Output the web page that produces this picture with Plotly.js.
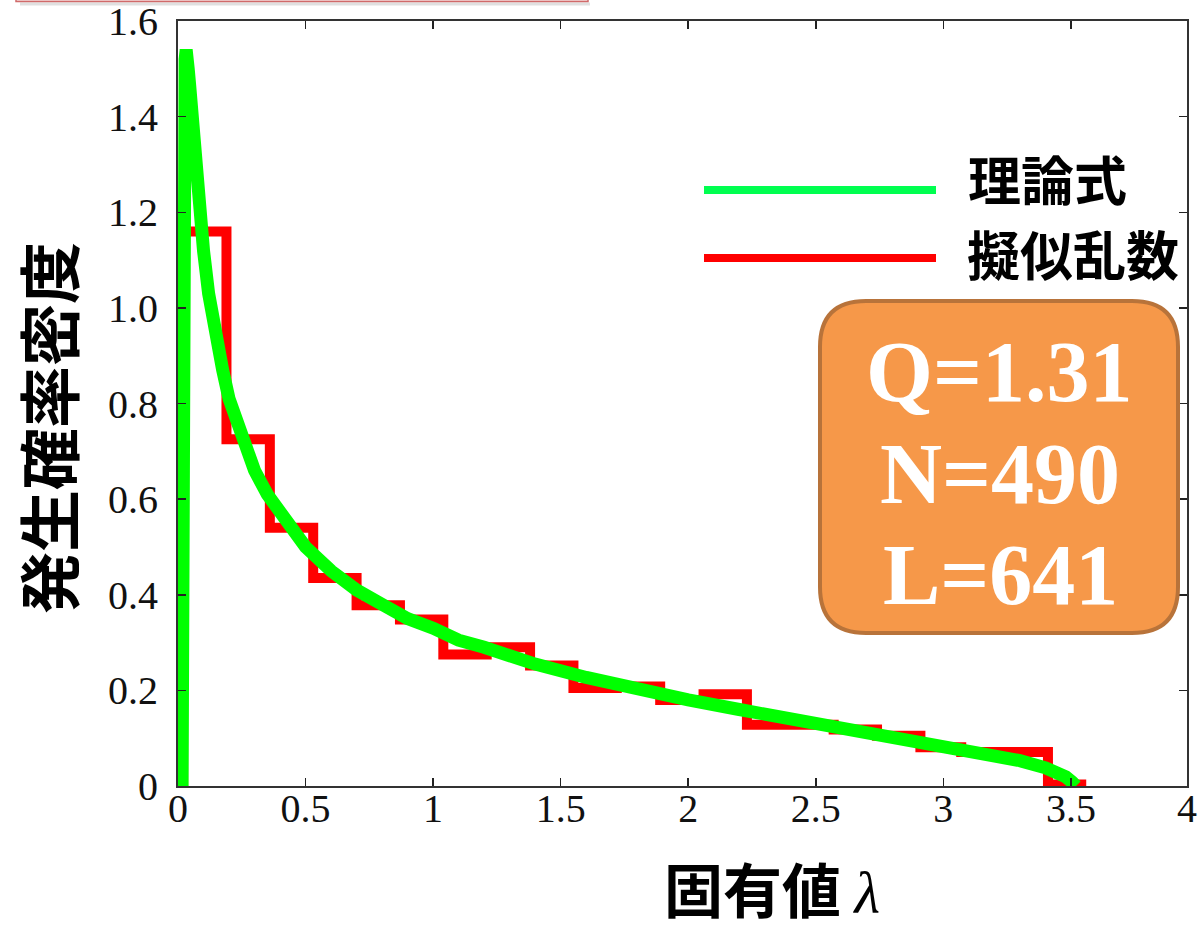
<!DOCTYPE html>
<html>
<head>
<meta charset="utf-8">
<script src="https://cdn.plot.ly/plotly-3.0.1.min.js"></script>
<style>
  html, body { margin: 0; padding: 0; background: #ffffff; }
  #chart { width: 1198px; height: 933px; }
</style>
</head>
<body>
<div id="chart"></div>
<script>
// ---- Data ----
// Theoretical curve (理論式): eigenvalue λ and density
const lambdaTheory = [0.016, 0.017, 0.018, 0.020, 0.022, 0.025, 0.028, 0.032, 0.036, 0.040,
                      0.045, 0.050, 0.060, 0.070, 0.080, 0.090, 0.100, 0.120, 0.150, 0.175,
                      0.200, 0.250, 0.300, 0.350, 0.400, 0.450, 0.500, 0.600, 0.700, 0.800,
                      0.900, 1.000, 1.100, 1.200, 1.300, 1.400, 1.600, 1.800, 2.000, 2.200,
                      2.400, 2.600, 2.800, 3.000, 3.200, 3.300, 3.400, 3.450, 3.480, 3.505, 3.520];
const densityTheory = [0, 0.70, 0.97, 1.23, 1.37, 1.48, 1.52, 1.54, 1.53, 1.50,
                       1.47, 1.43, 1.35, 1.28, 1.22, 1.17, 1.12, 1.03, 0.93, 0.87,
                       0.81, 0.73, 0.66, 0.61, 0.57, 0.535, 0.50, 0.45, 0.41, 0.38,
                       0.35, 0.33, 0.305, 0.29, 0.27, 0.255, 0.227, 0.202, 0.180, 0.160,
                       0.141, 0.123, 0.105, 0.086, 0.065, 0.053, 0.038, 0.028, 0.019, 0.008, 0];

// Pseudo-random histogram (擬似乱数): bin edges and bin densities
const histStart = 0.0;
const binEdges = [0.02, 0.19, 0.36, 0.53, 0.70, 0.87, 1.04, 1.21, 1.38, 1.55, 1.72,
                  1.89, 2.06, 2.23, 2.40, 2.57, 2.74, 2.91, 3.07, 3.24, 3.41, 3.56];
const binDensity = [1.16, 0.725, 0.54, 0.435, 0.378, 0.348, 0.275, 0.29, 0.252, 0.205,
                    0.208, 0.18, 0.192, 0.128, 0.128, 0.118, 0.105, 0.081, 0.071, 0.071, 0.003];

// Axis ranges and tick labels
const xRange = [0, 3.955];
const yRange = [0, 1.6];
const xTickVals = [0, 0.5, 1, 1.5, 2, 2.5, 3, 3.5, 3.955];
const xTickText = ["0", "0.5", "1", "1.5", "2", "2.5", "3", "3.5", "4"];
const yTickVals = [0, 0.2, 0.4, 0.6, 0.8, 1.0, 1.2, 1.4, 1.6];
const yTickText = ["0", "0.2", "0.4", "0.6", "0.8", "1.0", "1.2", "1.4", "1.6"];

// Texts
const seriesNames = ["理論式", "擬似乱数"];
const paramLines = ["Q=1.31", "N=490", "L=641"];
const xTitle = "固有値";
const yTitle = "発生確率密度";

// ---- Build histogram step trace ----
const histX = [histStart].concat(binEdges);
const histY = [0].concat(binDensity).concat([binDensity[binDensity.length - 1]]);

// ---- Geometry helpers (pixel -> paper) ----
const W = 1198, H = 933;
const M = { l: 178, r: 11, t: 21, b: 147 };
const PW = W - M.l - M.r, PH = H - M.t - M.b;
const px = v => (v - M.l) / PW;
const py = v => (H - M.b - v) / PH;

function roundedRect(x0, y0, x1, y1, r) {
  const X0 = px(x0), X1 = px(x1), Y0 = py(y0), Y1 = py(y1);
  const rx = r / PW, ry = r / PH;
  return `M ${X0 + rx},${Y0} L ${X1 - rx},${Y0} Q ${X1},${Y0} ${X1},${Y0 - ry} ` +
         `L ${X1},${Y1 + ry} Q ${X1},${Y1} ${X1 - rx},${Y1} L ${X0 + rx},${Y1} ` +
         `Q ${X0},${Y1} ${X0},${Y1 + ry} L ${X0},${Y0 - ry} Q ${X0},${Y0} ${X0 + rx},${Y0} Z`;
}

const traces = [
  {
    x: histX, y: histY, type: "scatter", mode: "lines",
    name: seriesNames[1],
    line: { color: "#ff0000", width: 10, shape: "hv" },
    cliponaxis: false, showlegend: false, hoverinfo: "skip"
  },
  {
    x: lambdaTheory, y: densityTheory, type: "scatter", mode: "lines",
    name: seriesNames[0],
    line: { color: "#00ff00", width: 13 },
    cliponaxis: false, showlegend: false, hoverinfo: "skip"
  }
];

const cjk = "Noto Sans CJK JP, Noto Sans CJK SC, sans-serif";
const serif = "Liberation Serif, Times New Roman, serif";

const axisCommon = {
  ticks: "inside", ticklen: 8, tickwidth: 1.5, tickcolor: "#222",
  showline: true, linecolor: "#333", linewidth: 2, mirror: "ticks",
  showgrid: false, zeroline: false, ticklabeloverflow: "allow",
  tickfont: { family: serif, size: 40, color: "#111" }
};

const layout = {
  width: W, height: H,
  margin: M,
  paper_bgcolor: "#ffffff", plot_bgcolor: "#ffffff",
  showlegend: false,
  xaxis: Object.assign({}, axisCommon, {
    range: xRange, tickmode: "array", tickvals: xTickVals, ticktext: xTickText,
    ticklabelstandoff: -14
  }),
  yaxis: Object.assign({}, axisCommon, {
    range: yRange, tickmode: "array", tickvals: yTickVals, ticktext: yTickText,
    ticklabelstandoff: 10
  }),
  shapes: [
    // slide decoration at the very top-left
    { type: "rect", xref: "paper", yref: "paper", x0: px(16), x1: px(588), y0: py(-30), y1: py(1.5),
      fillcolor: "#f6dede", line: { color: "#d06a6a", width: 1.5 }, layer: "above" },
    { type: "line", xref: "paper", yref: "paper", x0: px(20), x1: px(590), y0: py(4), y1: py(4),
      line: { color: "rgba(0,0,0,0.12)", width: 3 }, layer: "above" },
    // legend lines
    { type: "line", xref: "paper", yref: "paper", x0: px(704), x1: px(936), y0: py(190), y1: py(190),
      line: { color: "#00ff50", width: 8 }, layer: "above" },
    { type: "line", xref: "paper", yref: "paper", x0: px(704), x1: px(936), y0: py(258), y1: py(258),
      line: { color: "#ff0000", width: 8 }, layer: "above" },
    // parameter box
    { type: "path", xref: "paper", yref: "paper", path: roundedRect(820, 301, 1178, 633, 46),
      fillcolor: "#f69849", line: { color: "#b8733a", width: 4 }, layer: "above" }
  ],
  annotations: [
    { xref: "paper", yref: "paper", x: px(966), y: py(178), xanchor: "left", yanchor: "middle",
      text: seriesNames[0], showarrow: false,
      font: { family: cjk, size: 53, color: "#000", weight: "bold" } },
    { xref: "paper", yref: "paper", x: px(965), y: py(253), xanchor: "left", yanchor: "middle",
      text: seriesNames[1], showarrow: false,
      font: { family: cjk, size: 53, color: "#000", weight: "bold" } },
    { xref: "paper", yref: "paper", x: px(999), y: py(372), xanchor: "center", yanchor: "middle",
      text: paramLines[0], showarrow: false,
      font: { family: serif, size: 86, color: "#ffffff", weight: "bold" } },
    { xref: "paper", yref: "paper", x: px(1000), y: py(474), xanchor: "center", yanchor: "middle",
      text: paramLines[1], showarrow: false,
      font: { family: serif, size: 86, color: "#ffffff", weight: "bold" } },
    { xref: "paper", yref: "paper", x: px(1000), y: py(575), xanchor: "center", yanchor: "middle",
      text: paramLines[2], showarrow: false,
      font: { family: serif, size: 86, color: "#ffffff", weight: "bold" } },
    // axis titles
    { xref: "paper", yref: "paper", x: px(772), y: py(887), xanchor: "center", yanchor: "middle",
      text: xTitle + " <span style=\"font-family:Liberation Serif;font-weight:normal\"><i>λ</i></span>",
      showarrow: false, borderpad: 0,
      font: { family: cjk, size: 59, color: "#000", weight: "bold" } },
    { xref: "paper", yref: "paper", x: px(47), y: py(428), xanchor: "center", yanchor: "middle",
      text: yTitle, textangle: -90, showarrow: false, borderpad: 0,
      font: { family: cjk, size: 62, color: "#000", weight: "bold" } }
  ]
};

Plotly.newPlot("chart", traces, layout, { staticPlot: true, displayModeBar: false });
</script>
</body>
</html>
